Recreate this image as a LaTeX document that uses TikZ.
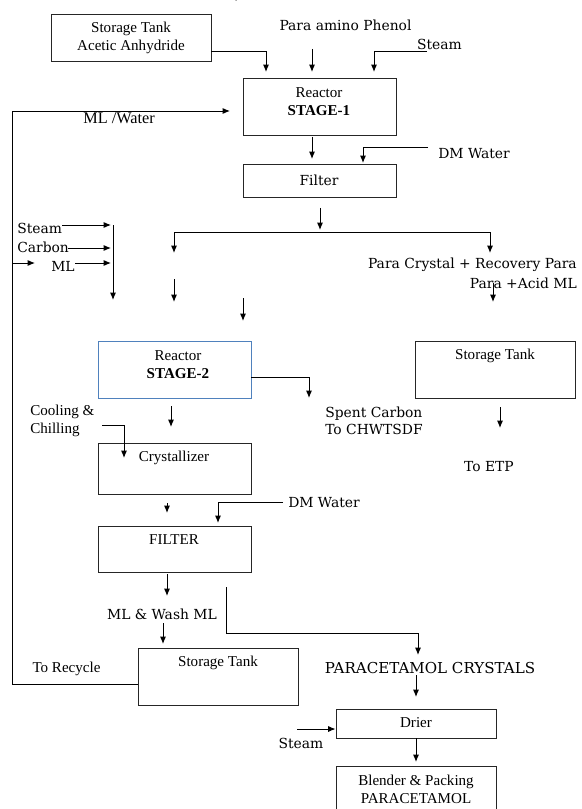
\documentclass[tikz,border=0pt]{standalone}
\usepackage{fontspec}
\setmainfont{Liberation Serif}
\newfontfamily\csfont{DejaVu Serif}
\usetikzlibrary{arrows.meta}
\definecolor{wblue}{RGB}{79,129,189}
\tikzset{
  x=0.75pt, y=-0.75pt,
  box/.style={draw=black!85, line width=0.7pt, inner sep=0pt},
  bluebox/.style={box, draw=wblue},
  tm/.style={font=\fontsize{11.3}{13.5}\selectfont, inner sep=0pt, align=center},
  cs/.style={font=\csfont\fontsize{10.4}{13.2}\selectfont, inner sep=0pt, align=center},
  arr/.style={line width=0.7pt, -{Latex[length=5.5pt,width=4.5pt]}},
  ln/.style={line width=0.7pt},
}
\begin{document}
\begin{tikzpicture}
\clip (0,0) rectangle (581,809);
\fill[white] (0,0) rectangle (581,809);
% boxes
\node[box, minimum width=120pt, minimum height=35.25pt] (acetic) at (131,37.5) {};
\node[box, minimum width=114.75pt, minimum height=42.75pt] (reactor1) at (319.5,106.5) {};
\node[box, minimum width=114.75pt, minimum height=24.75pt] (filter1) at (319.5,180.5) {};
\node[bluebox, minimum width=114.75pt, minimum height=42.75pt] (reactor2) at (174.5,369.5) {};
\node[box, minimum width=120pt, minimum height=42.75pt] (tankR) at (495,369.5) {};
\node[box, minimum width=114.75pt, minimum height=38.25pt] (cryst) at (174.5,468.5) {};
\node[box, minimum width=114.75pt, minimum height=34.5pt] (filter2) at (174.5,549) {};
\node[box, minimum width=120pt, minimum height=42.75pt] (tankB) at (218,676.5) {};
\node[box, minimum width=120pt, minimum height=21.75pt] (drier) at (416,723.5) {};
\node[box, minimum width=120pt, minimum height=48pt] (blender) at (416,798) {};
% texts
\node[tm] (tick) at (236,3) {\scriptsize\textasciigrave};
\node[tm] (tacetic) at (131,38) {Storage Tank\\Acetic Anhydride};
\node[tm] (tr1) at (319,101.5) {Reactor\\\textbf{STAGE-1}};
\node[cs] (tf1) at (319,180) {Filter};
\node[cs] (pap) at (345.5,25) {Para amino Phenol};
\node[cs] (steam1) at (439.5,44) {Steam};
\node[cs] (dm1) at (474,154) {DM Water};
\node[tm, font=\fontsize{12.2}{14}\selectfont] (mlw) at (119,118) {ML /Water};
\node[cs, anchor=west] (steam2) at (17,228) {Steam};
\node[cs, anchor=west] (carbon) at (17,247) {Carbon};
\node[cs, anchor=west] (ml) at (51,266) {ML};
\node[cs, anchor=east] (para1) at (577,265) {Para Crystal + Recovery Para};
\node[cs, anchor=east] (para2) at (577,283) {Para +Acid ML};
\node[tm] (tr2) at (178,365) {Reactor\\\textbf{STAGE-2}};
\node[cs, align=left, anchor=west] (spent) at (325,421) {Spent Carbon\\To CHWTSDF};
\node[tm] (ttankR) at (495,356) {Storage Tank};
\node[cs] (etp) at (489,467) {To ETP};
\node[tm, align=left, anchor=west] (cool) at (30,421) {Cooling \&\\Chilling};
\node[tm] (tcryst) at (174,458) {Crystallizer};
\node[cs, anchor=west] (dm2) at (288,503) {DM Water};
\node[tm] (tf2) at (174,540) {FILTER};
\node[cs] (wash) at (162,614) {ML \& Wash ML};
\node[tm] (ttankB) at (218,663) {Storage Tank};
\node[tm] (recycle) at (66.5,669) {To Recycle};
\node[cs, font=\csfont\fontsize{11.3}{13.2}\selectfont] (pcr) at (430,668) {PARACETAMOL CRYSTALS};
\node[tm] (tdrier) at (416,723) {Drier};
\node[cs] (steam3) at (301,743) {Steam};
\node[tm] (tblend) at (416,789) {Blender \& Packing\\PARACETAMOL};
% connectors
\draw[arr] (acetic.east |- 0,51) -| (266,72);
\draw[arr] (312,49) -- (312,72);
\draw[arr] (427,51) -| (374,72);
\draw[arr] (tankB.west |- 0,684) -| (12,111) -- (230,111);
\draw[arr] (312,137) -- (312,159);
\draw[arr] (428,147) -| (363,163);
\draw[arr] (320,208) -- (320,230);
\draw[line width=0.7pt, {Latex[length=5.5pt,width=4.5pt]}-{Latex[length=5.5pt,width=4.5pt]}] (174,253) |- (490,232) -- (490,253);
\draw[arr] (493,283) -- (493,302);
\draw[arr] (62,225) -- (111,225);
\draw[arr] (68,248) -- (111,248);
\draw[arr] (75,263) -- (111,263);
\draw[arr] (113,225) -- (113,300);
\draw[arr] (12,263) -- (35,263);
\draw[arr] (174,279) -- (174,302);
\draw[arr] (243,298) -- (243,321);
\draw[arr] (reactor2.east |- 0,377) -| (309,398);
\draw[arr] (500,407) -- (500,428);
\draw[arr] (171,406) -- (171,427);
\draw[arr] (102,425) -| (124,458);
\draw[arr] (167,503) -- (167,513);
\draw[arr] (283,502) -| (218,523);
\draw[arr] (167,574) -- (167,596);
\draw[arr] (163,623) -- (163,644);
\draw[arr] (226,587) |- (418,633) -- (418,655);
\draw[arr] (416,675) -- (416,697);
\draw[arr] (297,729) -- (drier.west |- 0,729);
\draw[arr] (drier.south -| 416,0) -- (416,762);
\end{tikzpicture}
\end{document}
